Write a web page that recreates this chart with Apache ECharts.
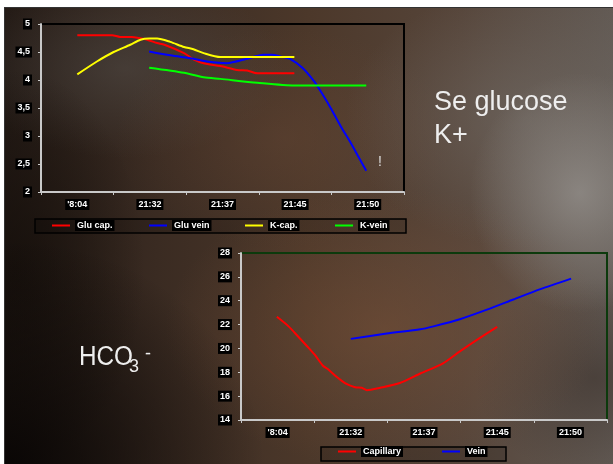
<!DOCTYPE html>
<html>
<head>
<meta charset="utf-8">
<script src="https://cdn.jsdelivr.net/npm/echarts@6/dist/echarts.min.js"></script>
<style>
html,body{margin:0;padding:0;background:#fff;}
#wrap{position:relative;width:613px;height:464px;overflow:hidden;background:#fff;}
#bg{position:absolute;left:4px;top:7px;right:0;bottom:0;
 border-top:1px solid #333;border-left:1px solid #333;
 background:
  radial-gradient(ellipse 110px 120px at 575px 185px, rgba(150,146,142,0.75), rgba(150,146,142,0) 100%),
  radial-gradient(ellipse 180px 130px at 520px 110px, rgba(120,115,110,0.5), rgba(120,115,110,0) 100%),
  radial-gradient(ellipse 260px 230px at 0px 460px, rgba(8,5,4,0.95), rgba(8,5,4,0) 100%),
  radial-gradient(ellipse 130px 200px at 10px 260px, rgba(20,14,10,0.8), rgba(20,14,10,0) 100%),
  radial-gradient(ellipse 220px 140px at 380px 320px, rgba(125,82,55,0.5), rgba(125,82,55,0) 100%),
  radial-gradient(ellipse 170px 110px at 280px 130px, rgba(110,75,55,0.35), rgba(110,75,55,0) 100%),
  radial-gradient(ellipse 160px 90px at 120px 60px, rgba(85,80,76,0.5), rgba(85,80,76,0) 100%),
  radial-gradient(ellipse 120px 100px at 590px 370px, rgba(60,50,45,0.6), rgba(60,50,45,0) 100%),
  linear-gradient(to right, #231a15 0%, #3a2b22 25%, #4c382a 50%, #56453a 75%, #625a54 100%);
}
#chart{position:absolute;left:0;top:0;width:613px;height:464px;}
</style>
</head>
<body>
<div id="wrap"><div id="bg"></div><div id="chart"></div></div>
<script>
// ---- data ----
const categories = ["'8:04", "21:32", "21:37", "21:45", "21:50"];

// top chart: [position in category units, value]
const gluCap = [[0.5,4.8],[0.98,4.8],[1.09,4.77],[1.25,4.77],[1.46,4.72],[1.6,4.66],[1.7,4.63],[1.97,4.48],[2.1,4.37],[2.24,4.3],[2.47,4.25],[2.7,4.18],[2.84,4.17],[2.98,4.12],[3.49,4.12]];
const gluVein = [[1.49,4.51],[1.78,4.44],[2.1,4.38],[2.29,4.33],[2.56,4.3],[2.84,4.38],[3.06,4.45],[3.18,4.45],[3.3,4.42],[3.44,4.37],[3.6,4.22],[3.76,3.98],[3.88,3.74],[3.99,3.5],[4.13,3.17],[4.27,2.87],[4.38,2.61],[4.48,2.38]];
const kCap = [[0.5,4.1],[0.77,4.33],[1.0,4.5],[1.23,4.63],[1.37,4.72],[1.49,4.74],[1.6,4.74],[1.78,4.68],[1.97,4.59],[2.1,4.55],[2.24,4.48],[2.47,4.41],[3.49,4.41]];
const kVein = [[1.49,4.22],[1.97,4.13],[2.24,4.05],[2.47,4.02],[2.98,3.95],[3.49,3.9],[4.48,3.9]];

// bottom chart
const capillary = [[0.49,22.65],[0.65,21.85],[0.78,21.0],[0.9,20.2],[1.01,19.45],[1.12,18.55],[1.19,18.25],[1.31,17.6],[1.42,17.1],[1.56,16.75],[1.65,16.7],[1.72,16.5],[1.9,16.7],[2.17,17.1],[2.45,17.9],[2.76,18.75],[2.99,19.75],[3.27,20.9],[3.5,21.8]];
const vein = [[1.5,20.8],[1.99,21.25],[2.45,21.6],[2.63,21.85],[2.99,22.45],[3.36,23.25],[3.72,24.1],[4.08,24.95],[4.51,25.85]];

const topNames = ['Glu cap.', 'Glu vein', 'K-cap.', 'K-vein'];
const bottomNames = ['Capillary', 'Vein'];

// ---- styles ----
const FONT = '"Liberation Sans", Arial, sans-serif';
const lbl = {color:'#fff', fontFamily:FONT, fontWeight:'bold', fontSize:9, backgroundColor:'#000', padding:[1,2,1,2]};
const axisGrey = '#c9c9c9';

function xCat(grid){
  return {type:'category', gridIndex:grid, data:categories, boundaryGap:true,
    axisLine:{show:true, lineStyle:{color:axisGrey, width:2}},
    axisTick:{show:true, length:3, lineStyle:{color:axisGrey, width:1}},
    axisLabel:Object.assign({margin:7, interval:0}, lbl)};
}
function xVal(grid){
  return {type:'value', gridIndex:grid, min:0, max:5, show:false};
}
function yAx(grid, min, max, step, fmt){
  return {type:'value', gridIndex:grid, min:min, max:max, interval:step,
    splitLine:{show:false},
    axisLine:{show:true, lineStyle:{color:axisGrey, width:2}},
    axisTick:{show:true, length:3, lineStyle:{color:axisGrey}},
    axisLabel:Object.assign({margin:9, formatter:fmt}, lbl)};
}
function line(name, data, color, xi, yi){
  return {type:'line', name:name, data:data, xAxisIndex:xi, yAxisIndex:yi,
    showSymbol:false, symbol:'none', smooth:0.25,
    lineStyle:{color:color, width:2}, itemStyle:{color:color}, z:5};
}
function leg(name, left, top){
  return {data:[name], left:left, top:top, padding:0, icon:'rect', itemWidth:18, itemHeight:2,
    itemGap:0, textStyle:Object.assign({}, lbl), selectedMode:false};
}

const chart = echarts.init(document.getElementById('chart'), null, {renderer:'canvas'});
chart.setOption({
  backgroundColor:'transparent',
  animation:false,
  grid:[
    {left:41, top:24, width:363, height:168, show:true, borderColor:'#000', borderWidth:2, backgroundColor:'transparent'},
    {left:241, top:253, width:366, height:167, show:true, borderColor:'#0c3a0c', borderWidth:2, backgroundColor:'transparent'}
  ],
  xAxis:[xCat(0), xVal(0), xCat(1), xVal(1)],
  yAxis:[
    yAx(0, 2, 5, 0.5, v => String(v).replace('.', ',')),
    yAx(1, 14, 28, 2, v => String(v))
  ],
  legend:[
    leg(topNames[0], 52, 220), leg(topNames[1], 149, 220), leg(topNames[2], 245, 220), leg(topNames[3], 335, 220),
    leg(bottomNames[0], 338, 446), leg(bottomNames[1], 442, 446)
  ],
  series:[
    line(topNames[0], gluCap, '#ff0000', 1, 0),
    line(topNames[1], gluVein, '#0000ff', 1, 0),
    line(topNames[2], kCap, '#ffff00', 1, 0),
    line(topNames[3], kVein, '#00ff00', 1, 0),
    line(bottomNames[0], capillary, '#ff0000', 3, 1),
    line(bottomNames[1], vein, '#0000ff', 3, 1)
  ],
  graphic:[
    {type:'rect', shape:{x:35, y:219, width:371, height:14}, style:{fill:'rgba(0,0,0,0.15)', stroke:'#000', lineWidth:1.5}, z:1},
    {type:'rect', shape:{x:321, y:447, width:185, height:14}, style:{fill:'rgba(0,0,0,0.15)', stroke:'#000', lineWidth:1.5}, z:1},
    {type:'text', x:434, y:103, style:{text:'Se glucose', font:'27px "Liberation Sans", Arial, sans-serif', fill:'#eeeeee', textVerticalAlign:'middle'}},
    {type:'text', x:434, y:136, style:{text:'K+', font:'27px "Liberation Sans", Arial, sans-serif', fill:'#eeeeee', textVerticalAlign:'middle'}},
    {type:'text', x:378, y:162, style:{text:'!', font:'14px "Liberation Sans", Arial, sans-serif', fill:'#dddddd', textVerticalAlign:'middle'}},
    {type:'text', x:79, y:358, scaleX:0.9, style:{text:'HCO', font:'27px "Liberation Sans", Arial, sans-serif', fill:'#eeeeee', textVerticalAlign:'middle'}},
    {type:'text', x:129, y:367, style:{text:'3', font:'18px "Liberation Sans", Arial, sans-serif', fill:'#eeeeee', textVerticalAlign:'middle'}},
    {type:'text', x:145, y:354, style:{text:'-', font:'18px "Liberation Sans", Arial, sans-serif', fill:'#eeeeee', textVerticalAlign:'middle'}}
  ]
});
</script>
</body>
</html>
